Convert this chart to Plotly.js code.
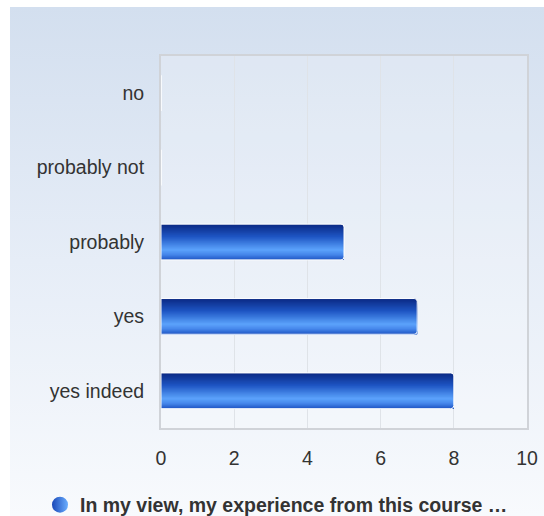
<!DOCTYPE html>
<html>
<head>
<meta charset="utf-8">
<script src="https://cdn.plot.ly/plotly-3.0.1.min.js"></script>
<style>
  html, body { margin:0; padding:0; background:#ffffff; }
  #bg { position:absolute; left:10px; top:7px; width:534px; height:509px;
        background: linear-gradient(to bottom, #d3dfef 0%, #e6edf7 50%, #f8fafd 100%); }
  #chart { position:absolute; left:0; top:0; width:544px; height:516px; }
</style>
</head>
<body>
<div id="bg"></div>
<div id="chart"></div>
<script>
// Data (bottom-up category order)
const categories = ['yes indeed', 'yes', 'probably', 'probably not', 'no'];
const values = [8, 7, 5, 0, 0];
const seriesName = 'In my view, my experience from this course …';
const xTicks = [0, 2, 4, 6, 8, 10];

// Bar gradient (top -> bottom of each bar): colour stops
const stops = [
  [0.00, [10, 40, 130]],
  [0.35, [30, 85, 195]],
  [0.72, [92, 163, 252]],
  [0.85, [70, 135, 235]],
  [1.00, [30, 85, 195]]
];
function colorAt(t) {
  for (let k = 0; k < stops.length - 1; k++) {
    const [t0, c0] = stops[k], [t1, c1] = stops[k + 1];
    if (t >= t0 && t <= t1) {
      const f = (t - t0) / (t1 - t0);
      const c = c0.map((v, j) => Math.round(v + (c1[j] - v) * f));
      return 'rgb(' + c.join(',') + ')';
    }
  }
  return 'rgb(' + stops[stops.length - 1][1].join(',') + ')';
}
const barWidth = 0.48;
const n = 40;
const s = barWidth / n;

const traces = [];
for (let i = 0; i < n; i++) {
  traces.push({
    type: 'bar', orientation: 'h',
    x: values, y: categories,
    width: barWidth - i * s,
    offset: -barWidth / 2,
    marker: { color: colorAt((i + 0.5) / n), line: { width: 0 }, cornerradius: 3 },
    showlegend: false, hoverinfo: 'skip'
  });
}
// white outline
traces.push({
  type: 'bar', orientation: 'h',
  x: values, y: categories,
  width: barWidth, offset: -barWidth / 2,
  marker: { color: 'rgba(0,0,0,0)', line: { width: 1, color: '#ffffff' }, cornerradius: 3 },
  showlegend: false, hoverinfo: 'skip'
});
// legend entry
traces.push({
  type: 'scatter', mode: 'markers', x: [null], y: [null],
  name: seriesName,
  marker: { symbol: 'circle', size: 18, color: '#1a48b8',
            gradient: { type: 'horizontal', color: '#6aaeff' } },
  showlegend: true
});

const FS = 19.5;
const layout = {
  width: 544, height: 516,
  margin: { l: 161, r: 17, t: 56, b: 88 },
  paper_bgcolor: 'rgba(0,0,0,0)',
  plot_bgcolor: 'rgba(255,255,255,0.2)',
  barmode: 'overlay',
  font: { family: 'Liberation Sans, Arial, sans-serif', size: FS, color: '#333333' },
  xaxis: {
    range: [0, 10], tickvals: xTicks, ticktext: xTicks.map(String),
    showgrid: true, gridcolor: '#dfe3e8', gridwidth: 1,
    zeroline: false, showline: true, linecolor: '#d0d3d8', linewidth: 2, mirror: true,
    ticks: '', ticklen: 0, tickfont: { size: FS, color: '#333333' }, ticklabelstandoff: 12,
    automargin: false
  },
  yaxis: {
    type: 'category', categoryorder: 'array', categoryarray: categories,
    range: [-0.5, 4.5], showgrid: false, zeroline: false,
    showline: true, linecolor: '#d0d3d8', linewidth: 2, mirror: true,
    ticks: '', tickfont: { size: FS, color: '#333333' }, ticklabelstandoff: 11,
    automargin: false
  },
  showlegend: true,
  legend: {
    orientation: 'h', xref: 'container', yref: 'container',
    x: 40 / 544, xanchor: 'left', y: 1 - 505 / 516, yanchor: 'middle',
    font: { size: FS, color: '#333333', weight: 'bold' },
    bgcolor: 'rgba(0,0,0,0)'
  }
};

Plotly.newPlot('chart', traces, layout, { displayModeBar: false, staticPlot: true });
</script>
</body>
</html>
